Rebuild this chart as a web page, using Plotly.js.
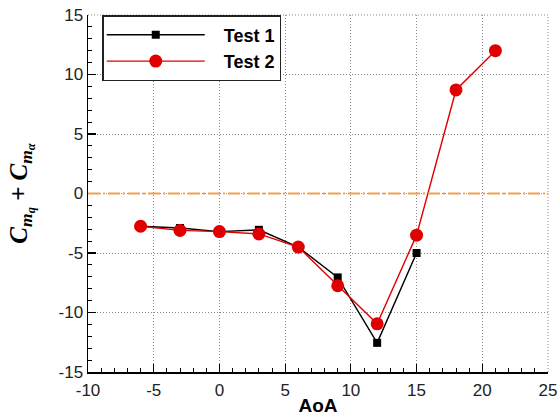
<!DOCTYPE html>
<html>
<head>
<meta charset="utf-8">
<script src="https://cdn.plot.ly/plotly-3.0.1.min.js"></script>
<style>
  html, body { margin: 0; padding: 0; background: #fff; }
  #chart { width: 559px; height: 418px; }
</style>
</head>
<body>
<div id="chart"></div>
<script>
// Angle of attack (deg) for each test run
const aoa1 = [-6, -3, 0, 3, 6, 9, 12, 15];
const aoa2 = [-6, -3, 0, 3, 6, 9, 12, 15, 18, 21];

// Pitch damping sum Cmq + Cmα
const test1 = [-2.75, -2.9, -3.2, -3.05, -4.5, -7.05, -12.55, -5.0];
const test2 = [-2.75, -3.1, -3.2, -3.4, -4.5, -7.75, -10.95, -3.5, 8.7, 12.0];

const xTicks = [-10, -5, 0, 5, 10, 15, 20, 25];
const xTickText = ["-10", "-5", "0", "5", "10", "15", "20", "25"];
const yTicks = [-15, -10, -5, 0, 5, 10, 15];
const yTickText = ["-15", "-10", "-5", "0", "5", "10", "15"];
const zeroRef = 0;

const traces = [
  {
    x: aoa1, y: test1, name: "Test 1", type: "scatter", mode: "lines+markers",
    line: { color: "#000000", width: 1.4 },
    marker: { symbol: "square", size: 8, color: "#000000" }
  },
  {
    x: aoa2, y: test2, name: "Test 2", type: "scatter", mode: "lines+markers",
    line: { color: "#e00000", width: 1.4 },
    marker: { symbol: "circle", size: 13, color: "#e00000" }
  }
];

const tickFont = { family: "Liberation Sans, Arial, sans-serif", size: 17, color: "#222" };
const gridStyle = { color: "#8a8a8a", width: 1, dash: "1px,2px" };

const layout = {
  width: 559, height: 418,
  margin: { l: 88, r: 11, t: 15, b: 46 },
  paper_bgcolor: "#fff", plot_bgcolor: "#fff",
  showlegend: true,
  legend: {
    x: 0.031, y: 1.0, xanchor: "left", yanchor: "top",
    bgcolor: "#fff", bordercolor: "#222", borderwidth: 1.5,
    font: { family: "Liberation Sans, Arial, sans-serif", size: 18, color: "#000", weight: "bold" },
    itemwidth: 110, tracegroupgap: 0
  },
  xaxis: {
    range: [-10, 25], tickvals: xTicks, ticktext: xTickText,
    showline: true, linecolor: "#000", linewidth: 1.5,
    ticks: "inside", ticklen: 8, tickwidth: 1.2, tickcolor: "#000",
    minor: { dtick: 1, ticks: "inside", ticklen: 4, tickwidth: 1, tickcolor: "#000", showgrid: false },
    showgrid: true, gridcolor: gridStyle.color, gridwidth: gridStyle.width, griddash: gridStyle.dash,
    zeroline: false, tickfont: tickFont, ticklabelstandoff: 2,
    title: { text: "AoA", font: { family: "Liberation Sans, Arial, sans-serif", size: 19, color: "#000", weight: "bold" }, standoff: 0 }
  },
  yaxis: {
    range: [-15, 15], tickvals: yTicks, ticktext: yTickText,
    showline: true, linecolor: "#000", linewidth: 1.5,
    ticks: "inside", ticklen: 8, tickwidth: 1.2, tickcolor: "#000",
    minor: { dtick: 1, ticks: "inside", ticklen: 4, tickwidth: 1, tickcolor: "#000", showgrid: false },
    showgrid: true, gridcolor: gridStyle.color, gridwidth: gridStyle.width, griddash: gridStyle.dash,
    zeroline: false, tickfont: tickFont,
    title: {
      text: "<i>C<sub>m<sub>q</sub></sub> + C<sub>m<sub>α</sub></sub></i>",
      font: { family: "Liberation Serif, DejaVu Serif, serif", size: 25, color: "#000", weight: "bold" },
      standoff: 24
    }
  },
  shapes: [
    // grid lines along the top and right borders of the plotting area
    { type: "line", xref: "paper", yref: "paper", x0: 0, x1: 1, y0: 1, y1: 1,
      line: gridStyle, layer: "below" },
    { type: "line", xref: "paper", yref: "paper", x0: 1, x1: 1, y0: 0, y1: 1,
      line: gridStyle, layer: "below" },
    // zero reference line
    { type: "line", xref: "paper", yref: "y", x0: 0, x1: 1, y0: zeroRef, y1: zeroRef,
      line: { color: "#f0a050", width: 2.2, dash: "12px,3px,2px,3px" }, layer: "above" }
  ]
};

Plotly.newPlot("chart", traces, layout, { staticPlot: true, displayModeBar: false }).then(function (gd) {
  // stretch the legend line samples and centre their markers
  gd.querySelectorAll(".legend .traces").forEach(function (item) {
    item.querySelectorAll(".legendlines path").forEach(function (p) {
      p.setAttribute("d", "M3,0h98");
    });
    item.querySelectorAll(".legendsymbols path.scatterpts").forEach(function (p) {
      p.setAttribute("transform", "translate(52,0)");
    });
  });
});
</script>
</body>
</html>
